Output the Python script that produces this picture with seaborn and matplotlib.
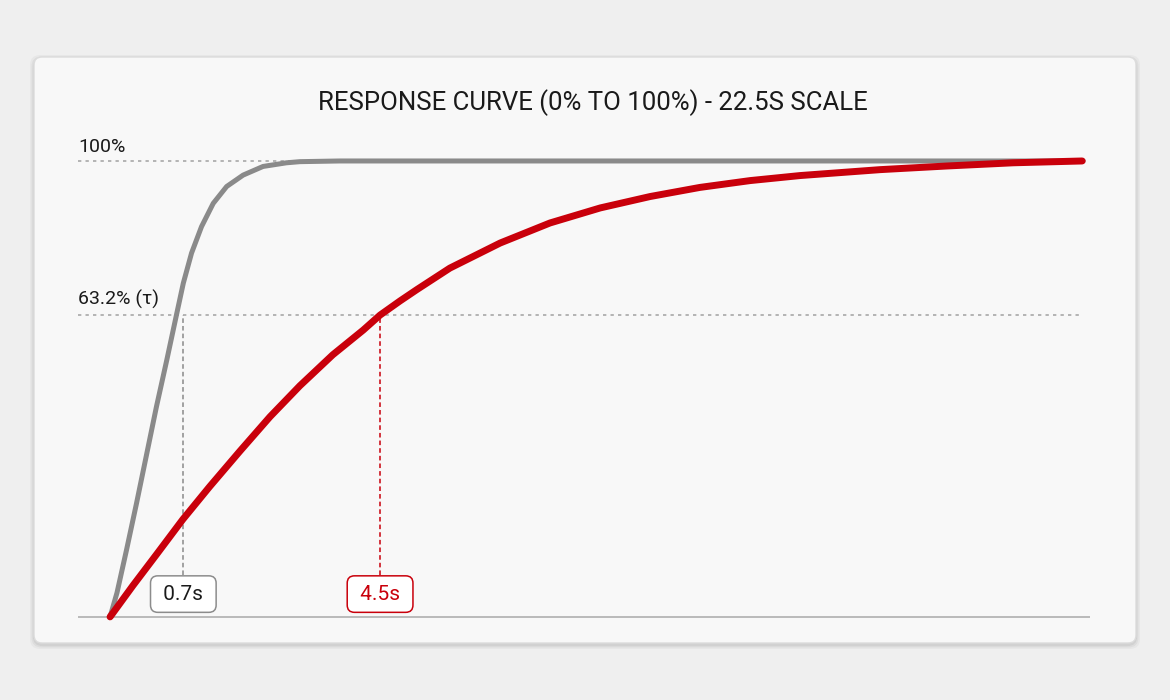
import numpy as np
import pandas as pd
import matplotlib
matplotlib.use("Agg")
import matplotlib.pyplot as plt
from matplotlib.patches import FancyBboxPatch
import seaborn as sns

sns.set_theme(style="white")
plt.rcParams['font.family'] = ['Roboto', 'DejaVu Sans']

# values (time in s on a 0-22.5 s axis, response in %)
gray_t = [0.05, 0.21, 0.43, 0.66, 0.89, 1.12, 1.36, 1.59, 1.74, 1.93, 2.16,
          2.43, 2.74, 3.12, 3.58, 4.12, 4.43, 5.35, 22.5]
gray_pct = [0.0, 5.3, 14.7, 24.9, 35.5, 46.1, 56.4, 66.6, 73.2, 79.8, 85.6,
            90.7, 94.4, 96.9, 98.8, 99.6, 99.85, 100.0, 100.0]

red_t = [0.05, 0.58, 1.13, 1.73, 2.35, 3.05, 3.74, 4.43, 5.19, 5.89, 6.28,
         6.74, 7.13, 7.89, 9.05, 10.20, 11.36, 12.51, 13.66, 14.82, 15.97,
         17.82, 19.36, 20.89, 22.48]
red_pct = [0.0, 6.9, 13.8, 21.4, 28.6, 36.4, 43.9, 50.7, 57.5, 62.9, 66.2,
           69.3, 71.8, 76.5, 82.0, 86.4, 89.7, 92.2, 94.2, 95.7, 96.8,
           98.1, 98.9, 99.6, 100.0]

full_level = 100.0
tau_level = 66.2          # where the tau guide sits in the picture
level_labels = ['100%', '63.2% (τ)']

marker_t = [1.74, 6.28]
marker_labels = ['0.7s', '4.5s']

title = 'RESPONSE CURVE (0% TO 100%) - 22.5S SCALE'

GRAY = '#8a8a8a'
RED = '#c9000b'

df = pd.concat([
    pd.DataFrame({'t': gray_t, 'pct': gray_pct, 'curve': 'fast'}),
    pd.DataFrame({'t': red_t, 'pct': red_pct, 'curve': 'slow'}),
])

fig = plt.figure(figsize=(11.7, 7.0), dpi=100)
fig.patch.set_facecolor('#efefef')

# card in pixel coordinates
bg = fig.add_axes([0, 0, 1, 1], zorder=0)
bg.set_xlim(0, 1170)
bg.set_ylim(700, 0)
bg.axis('off')
for off, a in [(4, 0.03), (2.5, 0.04), (1.2, 0.05)]:
    bg.add_patch(FancyBboxPatch((34 - off, 57 - off + 2), 1102 + 2 * off, 586 + 2 * off,
                                boxstyle='round,pad=0,rounding_size=10',
                                facecolor='black', edgecolor='none', alpha=a))
bg.add_patch(FancyBboxPatch((34, 57), 1102, 586,
                            boxstyle='round,pad=0,rounding_size=8',
                            facecolor='#f8f8f8', edgecolor='#dcdcdc', linewidth=1))

fig.text(593 / 1170, 1 - 103 / 700, title, ha='center', va='center',
         fontsize=18.5, color='#1a1a1a')

ax = fig.add_axes([78 / 1170, (700 - 626) / 700, 1012 / 1170, (626 - 124.5) / 700], zorder=1)
ax.patch.set_alpha(0)
ax.set_xlim(-0.69, 22.66)
ax.set_ylim(-2, 108)
ax.axis('off')

# guides
ax.hlines(full_level, -0.69, 4.6, colors='#a8a8a8', linestyles=(0, (2, 2.5)), linewidth=1.2)
ax.hlines(tau_level, -0.69, 22.5, colors='#a8a8a8', linestyles=(0, (2, 2.5)), linewidth=1.2)
ax.hlines(0, -0.69, 22.66, colors='#b5b5b5', linewidth=1.3)

box_top = 9.2
for t, col in zip(marker_t, [GRAY, RED]):
    ax.vlines(t, box_top, tau_level, colors=col, linestyles=(0, (3, 2)), linewidth=1.1)

sns.lineplot(data=df, x='t', y='pct', hue='curve', palette={'fast': GRAY, 'slow': RED},
             ax=ax, legend=False, sort=False, estimator=None)
lines = ax.get_lines()
lines[-2].set_linewidth(3.6)
lines[-1].set_linewidth(5.0)
for ln in lines[-2:]:
    ln.set_solid_capstyle('round')
    ln.set_solid_joinstyle('round')
    ln.set_clip_on(False)

ax.text(-0.69, full_level + 3.1, level_labels[0], ha='left', va='center',
        fontsize=14, color='#1a1a1a')
ax.text(-0.69, tau_level + 3.5, level_labels[1], ha='left', va='center',
        fontsize=14, color='#1a1a1a')

for t, lab, col in zip(marker_t, marker_labels, ['#1a1a1a', RED]):
    edge = '#8c8c8c' if col != RED else RED
    ax.text(t, 5.0, '\u2009' + lab + '\u2009', ha='center', va='center', fontsize=15, color=col,
            bbox=dict(boxstyle='round,pad=0.42,rounding_size=0.35', facecolor='white',
                      edgecolor=edge, linewidth=1.1))

fig.savefig('out.png', dpi=100, facecolor=fig.get_facecolor())
